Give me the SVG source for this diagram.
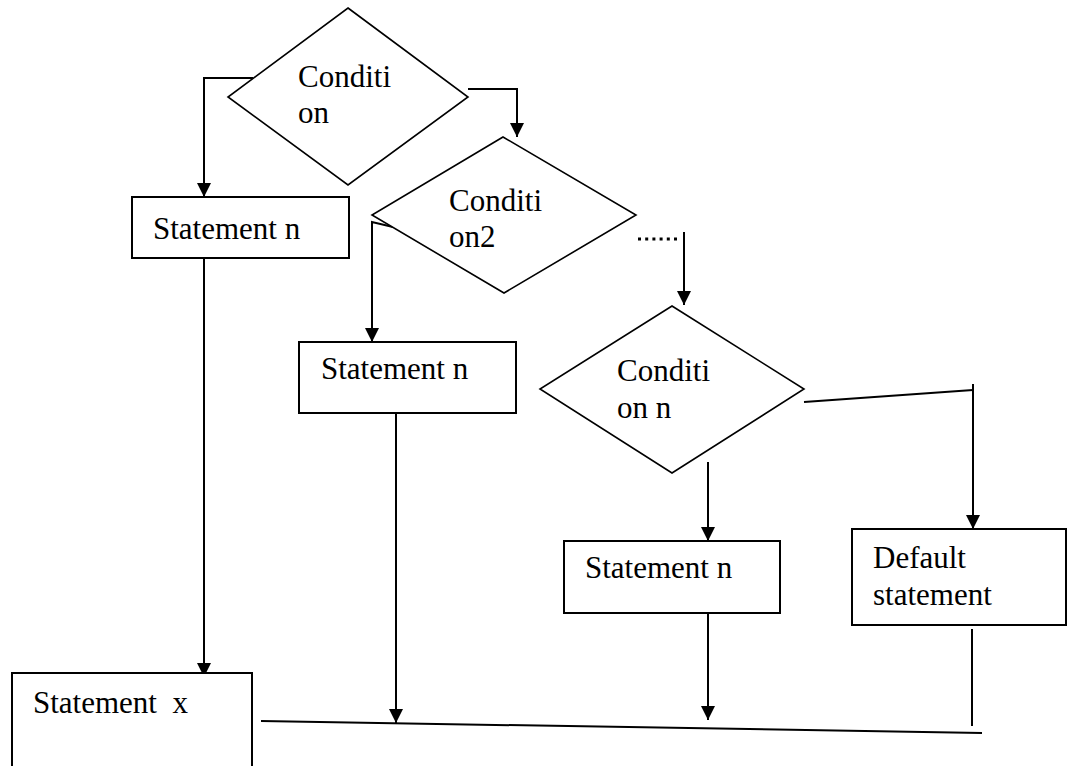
<svg xmlns="http://www.w3.org/2000/svg" width="1069" height="766" viewBox="0 0 1069 766">
  <style>
    .shape { fill: #ffffff; stroke: #000000; stroke-width: 2; }
    .diamond { fill: #ffffff; stroke: #000000; stroke-width: 1.6; }
    .label { font-family: "Liberation Serif", "Times New Roman", serif; font-size: 31px; fill: #000000; white-space: pre; }
    .wire { fill: none; stroke: #000000; stroke-width: 2; }
    .arrow { fill: none; stroke: #000000; stroke-width: 2; marker-end: url(#head); }
    .dots { fill: none; stroke: #000000; stroke-width: 3; stroke-dasharray: 3 4.2; }
  </style>
  <defs>
    <marker id="head" markerUnits="userSpaceOnUse" markerWidth="14" markerHeight="14" refX="14" refY="7" orient="auto">
      <path d="M0,0 L14,7 L0,14 Z" fill="#000000"/>
    </marker>
  </defs>

  <rect width="1069" height="766" fill="#ffffff"/>

  <!-- connectors -->
  <g id="connectors">
    <path class="arrow" d="M253,78 L204,78 L204,197"/>
    <path class="arrow" d="M468,89 L517,89 L517,137"/>
    <path class="arrow" d="M393,227 L372,222 L372,342"/>
    <line class="dots" x1="638" y1="239" x2="680" y2="239"/>
    <path class="arrow" d="M684,232 L684,305"/>
    <path class="wire" d="M804,402 L973,390"/>
    <path class="arrow" d="M973,384 L973,529"/>
    <path class="arrow" d="M708,462 L708,541"/>
    <path class="arrow" d="M204,258 L204,677"/>
    <path class="arrow" d="M396,413 L396,723"/>
    <path class="arrow" d="M708,613 L708,720"/>
    <path class="wire" d="M972,629 L972,726"/>
    <path class="wire" d="M261,721 L982,733"/>
  </g>

  <!-- decision: first condition -->
  <g id="cond1">
    <polygon class="diamond" points="348,8 468,97 348,185 228,97"/>
    <text class="label" x="298" y="87">Conditi</text>
    <text class="label" x="298" y="123">on</text>
  </g>

  <!-- decision: second condition -->
  <g id="cond2">
    <polygon class="diamond" points="503,137 636,215 504,293 372,215"/>
    <text class="label" x="449" y="211">Conditi</text>
    <text class="label" x="449" y="247">on2</text>
  </g>

  <!-- decision: nth condition -->
  <g id="condn">
    <polygon class="diamond" points="672,306 804,389 672,473 540,389"/>
    <text class="label" x="617" y="381">Conditi</text>
    <text class="label" x="617" y="418">on n</text>
  </g>

  <g id="stmt1">
    <rect class="shape" x="132" y="197" width="217" height="61"/>
    <text class="label" x="153" y="239">Statement n</text>
  </g>

  <g id="stmt2">
    <rect class="shape" x="299" y="342" width="217" height="71"/>
    <text class="label" x="321" y="379">Statement n</text>
  </g>

  <g id="stmt3">
    <rect class="shape" x="564" y="541" width="216" height="72"/>
    <text class="label" x="585" y="578">Statement n</text>
  </g>

  <g id="default">
    <rect class="shape" x="852" y="529" width="214" height="96"/>
    <text class="label" x="873" y="568">Default</text>
    <text class="label" x="873" y="605">statement</text>
  </g>

  <g id="stmtx">
    <rect class="shape" x="12" y="673" width="240" height="110"/>
    <text class="label" x="33" y="713">Statement  x</text>
  </g>
</svg>
